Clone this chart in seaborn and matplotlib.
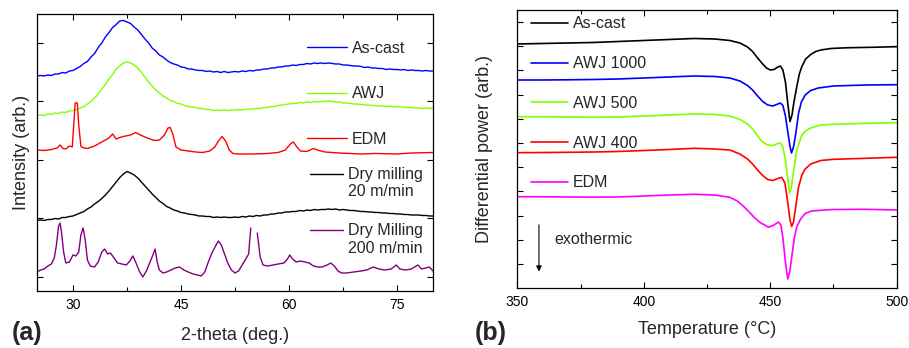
"""XRD patterns (a) and DSC traces (b) of the machined alloy surfaces."""
import matplotlib
matplotlib.use("Agg")
import matplotlib.pyplot as plt
import numpy as np
import seaborn as sns
from matplotlib.legend_handler import HandlerLine2D

sns.set_style("ticks")
plt.rcParams["font.family"] = ["Liberation Sans", "DejaVu Sans"]

# ---- (a) XRD, intensity in arbitrary units -------------------------------
TWO_THETA = np.arange(25.0, 80.25, 0.5)

XRD_ASCAST = [
    215, 215.5, 215, 216, 215.5, 217, 217, 218.5, 218, 220,
    220.5, 222.5, 224.5, 227.5, 229.5, 234, 237.5, 243.5, 248, 254,
    258.5, 263.5, 266.5, 270, 270.5, 269, 267.5, 264, 261, 256.5,
    252, 248, 243, 240, 236, 234, 231, 228.5, 227, 226,
    224, 223.5, 222, 222, 221, 220.5, 220.5, 219.5, 220, 219,
    219.5, 218.5, 219.5, 218.5, 219, 219.5, 219, 220, 219.5, 220.5,
    220, 221, 221, 222, 222, 223, 223, 224, 224, 225,
    225, 226, 225.5, 226.5, 226.5, 227.5, 227, 228, 227.5, 228,
    227.5, 228, 227.5, 227, 227, 226, 226, 225.5, 225, 225,
    224.5, 223.5, 224, 223, 223, 222.5, 222.5, 221.5, 222, 221.5,
    221.5, 221, 221.5, 220.5, 221, 220.5, 220.5, 220, 220.5, 220,
    220,
]
XRD_AWJ = [
    175.5, 176, 175.5, 177, 176.5, 178, 177.5, 179, 178.5, 180,
    180.5, 181.5, 183, 184.5, 187, 189.5, 193, 197, 202, 206.5,
    212, 216.5, 222, 225, 228, 229, 228, 226, 223, 218.5,
    214, 209, 205, 201, 198, 195, 193, 190.5, 189.5, 187.5,
    187, 185.5, 184.5, 184, 183.5, 182.5, 182.5, 181.5, 181.5, 180.5,
    181, 180.5, 181, 180.5, 181, 181, 181.5, 181, 181.5, 182,
    182, 182.5, 182.5, 183.5, 183.5, 184.5, 184.5, 185.5, 186, 186.5,
    187, 187.5, 187.5, 188.5, 188, 189, 188.5, 189.5, 189, 189.5,
    189.5, 190, 189.5, 189, 189, 188, 188, 187.5, 187, 187,
    186.5, 186, 186, 185.5, 185.5, 185, 185, 184.5, 185, 184,
    184.5, 184, 184, 183.5, 183.5, 183, 183, 182.5, 183, 182.5,
    182.5,
]
XRD_DRY20 = [
    70.5, 71, 70.5, 71.5, 71.5, 72.5, 72, 73.5, 73.5, 74.5,
    75, 76.5, 78, 79.5, 82, 84, 87, 89.5, 92.5, 96,
    100, 104.5, 109, 113.5, 117, 119.5, 118, 116, 113, 109,
    105, 101, 97, 93.5, 90, 87.5, 84.5, 83, 81, 80,
    78.5, 78, 77, 76.5, 76, 75, 75, 74.5, 74.5, 73.5,
    74, 73.5, 74, 73.5, 73.5, 74, 73.5, 74.5, 74, 75,
    74.5, 75.5, 75, 76, 76, 77, 77, 78, 78, 79,
    79, 79.5, 79.5, 80.5, 80, 81, 80.5, 81.5, 81, 81.5,
    81.5, 82, 81.5, 82, 81, 81.5, 81, 80.5, 80.5, 80,
    79.5, 79.5, 79, 79, 78.5, 78.5, 78, 78, 77.5, 77.5,
    77, 77, 76.5, 76.5, 76, 76, 76, 75.5, 75.5, 75,
    75,
]

EDM_THETA = [
    25, 26, 27, 27.8, 28.2, 28.6, 29, 29.5, 29.9, 30.1, 30.3, 30.6, 30.8,
    31.1, 31.5, 32, 33, 34, 35, 35.5, 36, 36.5, 37, 38, 38.7, 39.5, 40.5,
    41.3, 42, 42.7, 43.2, 43.5, 43.9, 44.3, 45, 46, 47, 48, 49, 49.7, 50.2,
    50.7, 51.2, 51.7, 52.2, 53, 55, 57, 58.5, 59.5, 60.2, 60.6, 61.1, 61.6,
    62.5, 63.4, 64.2, 65, 67, 70, 72, 75, 77, 80,
]
XRD_EDM = [
    141, 140.5, 141.5, 143, 146, 142.5, 142, 145, 144, 166, 188, 188, 166,
    144.5, 143, 142.5, 145, 149, 153, 157, 152, 153.5, 154.5, 156, 158.5,
    155.5, 152.5, 150.5, 151, 156, 163, 163.5, 156, 144, 141, 140, 139,
    138.5, 140, 144, 150, 154.5, 150, 141, 137.5, 137, 137, 137.5, 138.5,
    141, 147, 149, 144, 140, 139.5, 142.5, 140.5, 139, 138, 137, 137.5,
    137, 138, 138.5,
]

# Dry milling 200 m/min: the record breaks between the two spikes near 55 deg
DRY200_THETA_A = [
    25, 25.5, 26, 26.5, 27, 27.4, 27.7, 28.0, 28.2, 28.4, 28.7, 29.0, 29.5,
    30.0, 30.4, 30.8, 31.1, 31.4, 31.7, 32.0, 32.4, 33.0, 33.5, 34.0, 34.4,
    34.8, 35.2, 35.7, 36.2, 36.8, 37.4, 37.9, 38.3, 38.7, 39.2, 39.7, 40.2,
    40.7, 41.1, 41.4, 41.7, 42.0, 42.5, 43.0, 43.6, 44.2, 44.8, 45.4, 46.0,
    46.7, 47.3, 47.8, 48.3, 48.8, 49.3, 49.8, 50.2, 50.6, 51.0, 51.5, 52.0,
    52.5, 53.0, 53.5, 54.0, 54.4, 54.55, 54.7,
]
XRD_DRY200_A = [
    19, 21, 22, 25, 27, 33, 46, 65, 68, 59, 39, 28, 29,
    36, 35, 39, 56, 63, 51, 31, 25, 24, 29, 39, 42,
    37, 38, 33, 28, 27, 26, 30, 35, 29, 20, 14, 20,
    29, 36, 42, 29, 21, 18, 19, 21, 23, 24, 21, 19,
    17, 16, 15, 19, 29, 38, 45, 50, 46, 38, 28, 21,
    18, 20, 26, 32, 37, 51, 63,
]
DRY200_THETA_B = [
    55.6, 55.8, 56.0, 56.4, 57.0, 57.8, 58.5, 59.3, 59.8, 60.1, 60.5, 61.0,
    61.6, 62.2, 62.8, 63.4, 64.0, 64.6, 65.3, 65.8, 66.3, 66.8, 67.3, 68.0,
    69.0, 70.0, 70.8, 71.7, 72.5, 73.3, 74.2, 74.9, 75.4, 76.2, 77.0, 77.9,
    78.4, 79.0, 79.5, 80.0,
]
XRD_DRY200_B = [
    58, 46, 34, 26, 25, 26, 27, 28, 32, 36, 32, 29,
    30, 29, 28, 25, 24, 24, 26, 28, 25, 20, 18, 18,
    19, 20, 21, 24, 22, 21, 22, 26, 22, 21, 22, 26,
    22, 23, 24, 20,
]

XRD_LABELS = ["As-cast", "AWJ", "EDM", "Dry milling\n20 m/min", "Dry Milling\n200 m/min"]
XRD_COLORS = ["#0000ff", "#80ff00", "#ff0000", "#000000", "#800080"]

# ---- (b) DSC, differential power in arbitrary units ----------------------
T_ASCAST = [350, 360, 370, 380, 390, 400, 410, 420, 428, 434, 438, 441, 443, 445,
            447, 448.5, 450, 451.5, 453, 454, 455, 456, 457, 457.8, 458.6, 459.3,
            460.5, 461.5, 462.5, 464, 466, 468, 470, 474, 480, 490, 500]
DSC_ASCAST = [244, 244.5, 245, 245.5, 246.5, 247.5, 248.5, 249.5, 249, 247.5, 245,
              241, 236.5, 230, 224, 220, 218, 218.5, 221, 222, 218, 206, 183,
              166.5, 173, 185, 201.5, 214, 221.5, 229, 233.5, 236.5, 238, 239.5,
              240.2, 240.7, 241.3]

T_AWJ1000 = [350, 360, 370, 380, 390, 400, 410, 420, 428, 434, 438, 441, 443, 445,
             447, 449, 451, 453, 454, 455, 456, 457, 457.8, 458.4, 459.2, 460,
             461.2, 462.3, 463.8, 466, 469, 475, 488, 500]
DSC_AWJ1000 = [208, 208, 208.2, 208.5, 209, 210, 211, 212, 211.5, 210, 207, 202.5,
               198, 192, 186.5, 183, 182, 184, 185, 182.5, 172, 155, 141.5, 135,
               141, 153, 175, 186, 193, 197.5, 200, 202, 203, 203.3]

T_AWJ500 = [350, 360, 370, 380, 390, 400, 410, 420, 428, 434, 438, 441, 443, 445,
            447, 449, 451, 453, 454, 455, 456, 457, 457.6, 458.3, 459, 460.5,
            462.5, 464, 466, 470, 475, 488, 500]
DSC_AWJ500 = [171.3, 171.2, 171, 170.8, 171, 172, 173, 174, 173.5, 172, 168.5, 164,
              159, 152, 146, 143, 142.5, 144.5, 145, 141, 128, 108, 95, 100, 113,
              138, 153, 157, 160, 163, 163.7, 164.7, 165.3]

T_AWJ400 = [350, 360, 370, 380, 390, 400, 410, 420, 428, 434, 438, 441, 443, 445,
            447, 449, 451, 453, 454.5, 455.8, 457, 457.8, 458.5, 459.2, 460,
            461.2, 462.5, 463.8, 466, 470, 475, 488, 500]
DSC_AWJ400 = [135.3, 135.5, 135.7, 136, 136.5, 137.5, 138.5, 139.7, 139, 138, 134,
              129, 124, 118, 112.5, 108.5, 107.5, 109.5, 110.7, 105, 84, 68, 61.5,
              66, 80, 101, 113, 119, 124, 127.5, 128.7, 129.7, 130.7]

T_EDM = [350, 360, 370, 380, 390, 400, 410, 420, 428, 434, 437, 439.5, 441.5,
         443.5, 446, 449.3, 451.5, 453.2, 454.2, 455, 456, 456.9, 457.7, 458.6,
         459.5, 460.5, 462, 463.8, 466.4, 470, 475, 488, 500]
DSC_EDM = [91.3, 91.2, 91, 90.8, 91, 92, 93, 93.7, 93, 90.7, 87, 81.5, 76.5, 71,
           65.5, 60.7, 63, 66, 63, 50, 26, 9, 16, 33, 50, 61.3, 69, 74.5, 77,
           77.7, 78.5, 78.7, 78]

DSC_LABELS = ["As-cast", "AWJ 1000", "AWJ 500", "AWJ 400", "EDM"]
DSC_COLORS = ["#000000", "#0000ff", "#80ff00", "#ff0000", "#ff00ff"]


class FirstLineHandler(HandlerLine2D):
    """Legend line drawn level with the first line of a two-line label."""

    def __init__(self, shift=7.0, **kw):
        super().__init__(**kw)
        self.shift = shift

    def create_artists(self, legend, orig_handle, xdescent, ydescent,
                       width, height, fontsize, trans):
        artists = super().create_artists(legend, orig_handle, xdescent, ydescent,
                                         width, height, fontsize, trans)
        for a in artists:
            a.set_ydata(np.asarray(a.get_ydata()) + self.shift)
        return artists


def style_axes(ax):
    ax.tick_params(which="both", direction="in", top=True, right=True,
                   labelsize=10, colors="black", pad=5)
    ax.tick_params(which="major", length=4, width=0.8)
    ax.tick_params(which="minor", length=3, width=0.8)
    for sp in ax.spines.values():
        sp.set_color("black")
        sp.set_linewidth(0.9)


def main() -> None:
    fig = plt.figure(figsize=(9.09, 3.48), dpi=100)
    ax_a = fig.add_axes([0.0407, 0.1638, 0.4356, 0.796])
    ax_b = fig.add_axes([0.5691, 0.1724, 0.4174, 0.7989])

    # (a) XRD
    curves = [
        (TWO_THETA, XRD_ASCAST),
        (TWO_THETA, XRD_AWJ),
        (EDM_THETA, XRD_EDM),
        (TWO_THETA, XRD_DRY20),
        (DRY200_THETA_A, XRD_DRY200_A),
    ]
    for (x, y), lab, col in zip(curves, XRD_LABELS, XRD_COLORS):
        sns.lineplot(x=x, y=y, ax=ax_a, color=col, lw=1.0, label=lab,
                     estimator=None, sort=False)
    sns.lineplot(x=DRY200_THETA_B, y=XRD_DRY200_B, ax=ax_a, color=XRD_COLORS[4],
                 lw=1.0, estimator=None, sort=False)

    ax_a.set_xlim(25, 80)
    ax_a.set_ylim(0, 277)
    ax_a.xaxis.set_major_locator(plt.MultipleLocator(15))
    ax_a.xaxis.set_minor_locator(plt.MultipleLocator(7.5))
    ax_a.set_yticks(np.arange(14.3, 260, 58.5))
    ax_a.set_yticklabels([])
    style_axes(ax_a)
    ax_a.set_xlabel("2-theta (deg.)", fontsize=13)
    ax_a.set_ylabel("Intensity (arb.)", fontsize=13)
    ax_a.xaxis.set_label_coords(0.5, -0.13)
    ax_a.yaxis.set_label_coords(-0.018, 0.5)

    handles, labels = ax_a.get_legend_handles_labels()
    leg1 = ax_a.legend(handles[:3], labels[:3], loc="upper left",
                       bbox_to_anchor=(0.666, 0.926), frameon=False,
                       fontsize=11.5, handlelength=2.5, handletextpad=0.3,
                       labelspacing=1.9, borderaxespad=0)
    ax_a.add_artist(leg1)
    ax_a.legend(handles[3:], labels[3:], loc="upper left",
                bbox_to_anchor=(0.673, 0.472), frameon=False,
                fontsize=11.5, handlelength=2.1, handletextpad=0.3,
                labelspacing=1.53, borderaxespad=0,
                handler_map={h: FirstLineHandler(shift=7.0) for h in handles[3:]})

    # (b) DSC
    dsc = [
        (T_ASCAST, DSC_ASCAST),
        (T_AWJ1000, DSC_AWJ1000),
        (T_AWJ500, DSC_AWJ500),
        (T_AWJ400, DSC_AWJ400),
        (T_EDM, DSC_EDM),
    ]
    for (x, y), lab, col in zip(dsc, DSC_LABELS, DSC_COLORS):
        sns.lineplot(x=x, y=y, ax=ax_b, color=col, lw=1.2, label=lab,
                     estimator=None, sort=False)

    ax_b.set_xlim(350, 500)
    ax_b.set_ylim(0, 278)
    ax_b.xaxis.set_major_locator(plt.MultipleLocator(50))
    ax_b.xaxis.set_minor_locator(plt.MultipleLocator(25))
    ax_b.set_yticks(np.arange(24, 270, 24.2))
    ax_b.set_yticklabels([])
    style_axes(ax_b)
    ax_b.set_xlabel("Temperature (\u00b0C)", fontsize=13)
    ax_b.set_ylabel("Differential power (arb.)", fontsize=13)
    ax_b.xaxis.set_label_coords(0.5, -0.118)
    ax_b.yaxis.set_label_coords(-0.064, 0.5)
    ax_b.legend(loc="upper left", bbox_to_anchor=(0.02, 1.0), frameon=False,
                fontsize=11.5, handlelength=2.3, handletextpad=0.3,
                labelspacing=1.55, borderaxespad=0)

    ax_b.annotate("", xy=(0.057, 0.059), xytext=(0.057, 0.227),
                  xycoords="axes fraction",
                  arrowprops=dict(arrowstyle="-|>", color="black", lw=0.8,
                                  mutation_scale=8, shrinkA=0, shrinkB=0))
    ax_b.text(0.099, 0.176, "exothermic", transform=ax_b.transAxes,
              fontsize=11.5, ha="left", va="center")

    fig.text(12 / 909, 0.043, "(a)", fontsize=18, fontweight="bold",
             ha="left", va="center")
    fig.text(475 / 909, 0.043, "(b)", fontsize=18, fontweight="bold",
             ha="left", va="center")

    fig.savefig("out.png", dpi=100)
    plt.close(fig)


if __name__ == "__main__":
    main()
